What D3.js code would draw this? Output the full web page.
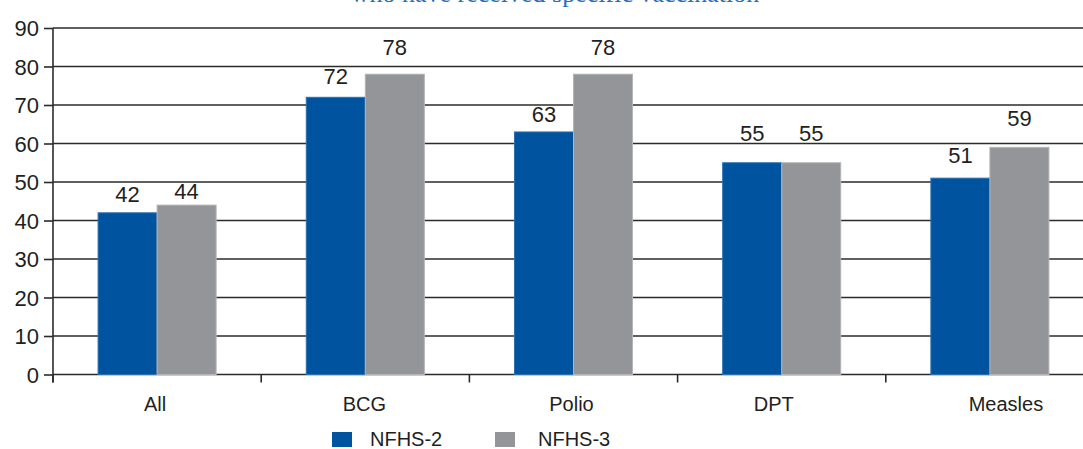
<!DOCTYPE html>
<html>
<head>
<meta charset="utf-8">
<script src="https://cdn.jsdelivr.net/npm/d3@7"></script>
<style>
  html, body { margin: 0; padding: 0; background: #ffffff; }
  svg { display: block; }
  text { font-family: "Liberation Sans", Arial, Helvetica, sans-serif; fill: #231f20; }
</style>
</head>
<body>
<svg id="chart" width="1083" height="449"></svg>
<script>
// Share of children who have received specific vaccinations (%)
const categories = ["All", "BCG", "Polio", "DPT", "Measles"];
const seriesNames = ["NFHS-2", "NFHS-3"];
const nfhs2 = [42, 72, 63, 55, 51];
const nfhs3 = [44, 78, 78, 55, 59];
const yTicks = [0, 10, 20, 30, 40, 50, 60, 70, 80, 90];
const titleText = "who have received specific vaccination";

const colors = { "NFHS-2": "#00549f", "NFHS-3": "#939598" };
const edge = { "NFHS-2": "#2f6fae", "NFHS-3": "#b4b5b7" };

const W = 1083, H = 449;
const svg = d3.select("#chart");

const x0 = d3.scaleBand().domain(categories).range([53, 1094])
  .paddingInner(0.433).paddingOuter(0.2165);
const x1 = d3.scaleBand().domain(seriesNames).range([0, x0.bandwidth()]);
const y = d3.scaleLinear().domain([0, 90]).range([374.5, 28]);

// title line, mostly above the visible area
svg.append("text")
  .attr("x", 555).attr("y", 1.5)
  .attr("text-anchor", "middle")
  .style("font-family", "'Liberation Serif', 'Times New Roman', serif")
  .style("font-size", "26px")
  .style("fill", "#2a6cb5")
  .text(titleText);

// horizontal gridlines
svg.append("g").selectAll("line").data(yTicks).join("line")
  .attr("x1", 53).attr("x2", W)
  .attr("y1", d => y(d)).attr("y2", d => y(d))
  .attr("stroke", "#2b2b2b").attr("stroke-width", 1.6);

// y axis
const yAxis = d3.axisLeft(y).tickValues(yTicks).tickSize(9).tickPadding(5);
const gy = svg.append("g").attr("transform", "translate(53,0)").call(yAxis);
gy.select(".domain").remove();
gy.selectAll(".tick line").attr("stroke", "#2b2b2b").attr("stroke-width", 1.6);
gy.selectAll(".tick text")
  .style("font-size", "22px").style("fill", "#231f20")
  .attr("dy", "0.36em");
svg.append("line")
  .attr("x1", 53).attr("x2", 53).attr("y1", y(90)).attr("y2", y(0) + 8)
  .attr("stroke", "#2b2b2b").attr("stroke-width", 1.6);

// category separators below the baseline
const step = x0.step();
const sepX = d3.range(categories.length + 1).map(i => 53 + i * step);
svg.append("g").selectAll("line").data(sepX).join("line")
  .attr("x1", d => d).attr("x2", d => d)
  .attr("y1", y(0)).attr("y2", y(0) + 8)
  .attr("stroke", "#2b2b2b").attr("stroke-width", 1.6);

// bars
const rows = categories.map((c, i) => ({ cat: c, vals: [
  { s: "NFHS-2", v: nfhs2[i] }, { s: "NFHS-3", v: nfhs3[i] } ] }));

const groups = svg.append("g").selectAll("g").data(rows).join("g")
  .attr("transform", d => `translate(${x0(d.cat)},0)`);

groups.selectAll("rect").data(d => d.vals).join("rect")
  .attr("x", d => x1(d.s))
  .attr("y", d => y(d.v))
  .attr("width", x1.bandwidth())
  .attr("height", d => y(0) - y(d.v))
  .attr("fill", d => colors[d.s])
  .attr("stroke", d => edge[d.s])
  .attr("stroke-width", 1);

// value labels, lifted above each bar
const labelLift = [[11, 6], [13, 19], [10, 19], [22, 22], [15, 21]];
groups.each(function (d, i) {
  d3.select(this).selectAll("text.val").data(d.vals).join("text")
    .attr("class", "val")
    .attr("x", v => x1(v.s) + x1.bandwidth() / 2)
    .attr("y", (v, j) => y(v.v) - labelLift[i][j])
    .attr("text-anchor", "middle")
    .style("font-size", "22px")
    .text(v => v.v);
});

// category labels
const catShift = [-2, -1, -2, -8, 16];
svg.append("g").selectAll("text").data(categories).join("text")
  .attr("x", (d, i) => x0(d) + x0.bandwidth() / 2 + catShift[i])
  .attr("y", 411)
  .attr("text-anchor", "middle")
  .style("font-size", "20px")
  .text(d => d);

// legend
const legendX = [332, 495];
const leg = svg.append("g").selectAll("g").data(seriesNames).join("g")
  .attr("transform", (d, i) => `translate(${legendX[i]},432)`);
leg.append("rect").attr("width", 20).attr("height", 15)
  .attr("fill", d => colors[d]);
leg.append("text").attr("x", (d, i) => i === 0 ? 38 : 43).attr("y", 14)
  .style("font-size", "20px")
  .text(d => d);
</script>
</body>
</html>
